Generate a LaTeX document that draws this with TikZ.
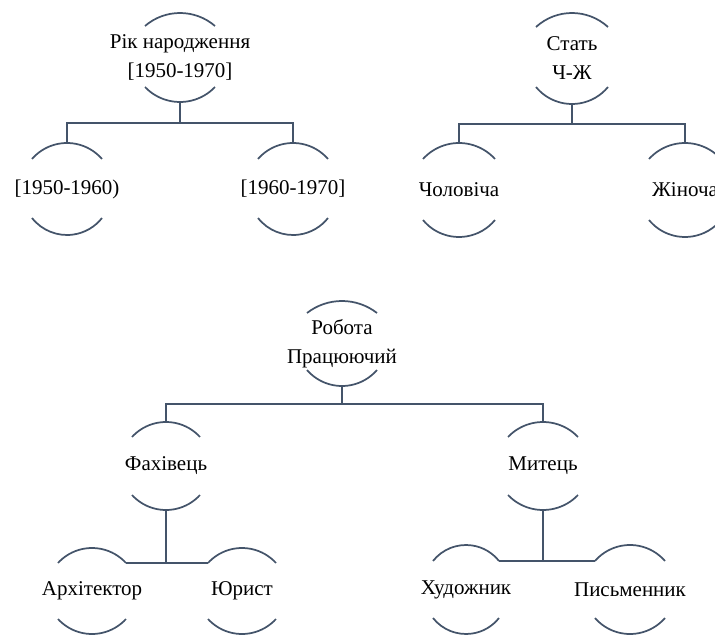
\documentclass[tikz,border=0pt]{standalone}
\usepackage{fontspec}
\setmainfont{Liberation Serif}
\usetikzlibrary{calc}
\definecolor{slate}{RGB}{68,84,106}
\tikzset{
  bub/.style={draw=none, inner sep=0pt, align=center, minimum width=10pt,
    font={\fontsize{15.75pt}{21.75pt}\selectfont}},
  arcline/.style={draw=slate, line width=1.3pt},
  conn/.style={draw=slate, line width=1.5pt}
}
% name, cx, top, bottom, half chord, sagitta top, sagitta bottom, text
\newcommand\bubble[8]{%
  \pgfmathsetmacro\bubH{(#4-#3)*0.75}%
  \node[bub, minimum height=\bubH pt] (#1) at ({#2},{-(#3+#4)/2}) {#8};
  \coordinate (#1-tl) at ({#2-#5},{-#3-#6});
  \coordinate (#1-tr) at ({#2+#5},{-#3-#6});
  \coordinate (#1-bl) at ({#2-#5},{-#4+#7});
  \coordinate (#1-br) at ({#2+#5},{-#4+#7});
  \pgfmathsetmacro\bubRt{(#5*#5+#6*#6)/(2*#6)}%
  \pgfmathsetmacro\bubAt{asin(#5/\bubRt)}%
  \draw[arcline] (#1-tl) arc[start angle={90+\bubAt}, end angle={90-\bubAt}, radius=\bubRt];
  \pgfmathsetmacro\bubRb{(#5*#5+#7*#7)/(2*#7)}%
  \pgfmathsetmacro\bubAb{asin(#5/\bubRb)}%
  \draw[arcline] (#1-bl) arc[start angle={270-\bubAb}, end angle={270+\bubAb}, radius=\bubRb];
}
\begin{document}
\begin{tikzpicture}[x=0.75pt,y=0.75pt]
\useasboundingbox (0,0) rectangle (715,-635);
\clip (0,0) rectangle (715,-635);
% top left tree
\bubble{A}{180}{13}{102}{35}{13}{15}{Рік народження\\{}[1950-1970]}
\bubble{B}{67}{143}{235}{35}{16}{17}{[1950-1960)}
\bubble{C}{293}{143}{235}{35}{16}{17}{[1960-1970]}
\draw[conn] (A.south) -- ++(0,-21) -| (B.north);
\draw[conn] (A.south) -- ++(0,-21) -| (C.north);
% top right tree
\bubble{D}{572}{13}{104}{36}{14}{17}{Стать\\Ч-Ж}
\bubble{E}{459}{143}{237}{36}{16}{17}{Чоловіча}
\bubble{F}{685}{143}{237}{36}{16}{17}{Жіноча}
\draw[conn] (D.south) -- ++(0,-20) -| (E.north);
\draw[conn] (D.south) -- ++(0,-20) -| (F.north);
% bottom tree
\bubble{G}{342}{301}{386}{35}{12}{16}{Робота\\Працюючий}
\bubble{H}{166}{422}{510}{34}{15}{15}{Фахівець}
\bubble{K}{543}{422}{510}{35}{15}{15}{Митець}
\draw[conn] (G.south) -- ++(0,-18) -| (H.north);
\draw[conn] (G.south) -- ++(0,-18) -| (K.north);
\bubble{I}{92}{548}{634}{34}{15}{15}{Архітектор}
\bubble{J}{242}{548}{634}{34}{15}{15}{Юрист}
\draw[conn] (I-tr) -- (J-tl);
\draw[conn] (H.south) -- (H.south |- I-tr);
\bubble{L}{466}{545}{634}{33}{16}{16}{Художник}
\bubble{M}{630}{545}{634}{35}{16}{16}{Письменник}
\draw[conn] (L-tr) -- (M-tl);
\draw[conn] (K.south) -- (K.south |- L-tr);
\end{tikzpicture}
\end{document}
